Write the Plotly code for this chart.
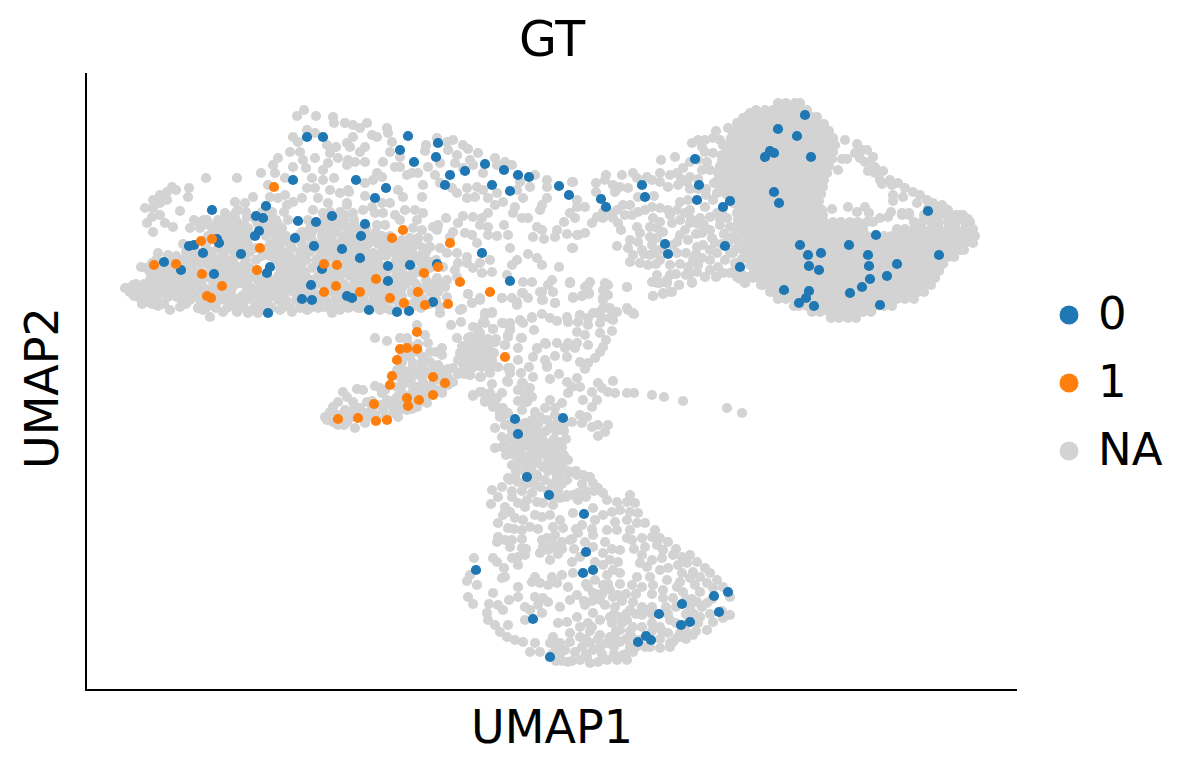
import plotly.graph_objects as go

# Cell embedding, UMAP units. Rows of dense cells are kept as (UMAP2, [UMAP1, ...]).
gt_0 = [(221,552),(237,552),(207,509),(180,483),(126,479),(170,473),(177,471),(212,468),(230,467),(246,473),
(173,458),(169,453),(209,451),(228,443),(256,440),(131,450),(133,446),(103,443),(108,444),(117,436),(155,435),
(78,427),(95,419),(128,415),(184,422),(181,416),(236,420),(225,404),(216,390),(226,389),(261,393),(266,391),
(182,376),(322,553),(352,546),(314,539),(350,532),(328,527),(399,525),(364,514),(379,518),(418,519),(432,514),
(443,512),(359,504),(406,504),(424,498),(473,503),(483,494),(270,509),(300,501),(289,491),(279,465),(275,453),
(274,431),(302,423),(324,424),(351,425),(302,408),(396,436),(424,408),(283,379),(311,377),(323,378),(347,387),
(719,574),(692,560),(711,553),(684,538),(688,536),(679,532),(609,530),(725,532),(613,504),(556,504),(559,492),
(611,489),(515,490),(520,482),(644,488),(637,482),(688,497),(693,486),(579,445),(582,435),(639,443),(714,444),
(722,434),(723,423),(654,422),(698,399),(723,398),(720,391),(713,386),(728,383),(842,478),(790,454),(763,444),
(735,436),(782,434),(733,419),(783,423),(853,434),(811,425),(801,413),(784,410),(776,402),(764,396),(794,384),
(429,270),(432,255),(477,271),(441,212),(463,194),(498,175),(500,137),(497,116),(507,119),(390,119),(447,70),
(464,32),(552,47),(560,53),(565,49),(573,75),(596,85),(595,64),(604,67),(628,93),(642,97),(633,77)]

gt_1 = [(188,502),(115,448),(126,450),(174,441),(68,424),(90,425),(116,415),(171,419),(238,425),(251,424),
(136,403),(121,393),(125,391),(238,397),(250,403),(317,459),(306,451),(364,446),(352,422),(338,416),(290,410),
(374,407),(274,397),(332,397),(404,397),(304,391),(318,386),(339,384),(362,385),(331,357),(314,340),(321,341),
(331,340),(311,329),(419,332),(306,313),(304,304),(347,312),(359,306),(347,294),(321,291),(322,283),(333,289),
(288,285),(252,270),(272,271),(290,268),(301,269)]

# Solid right-hand mass
na_right_rows = [
(586,[692,700,709,714]),
(579,[670,679,687,696,704,713,721]),
(572,[660,666,675,683,692,700,709,717,726,731]),
(565,[653,662,670,679,687,696,704,713,721,730,738]),
(558,[649,658,666,675,683,692,700,709,717,726,734,743]),
(551,[645,653,662,670,679,687,696,704,713,721,730,738,747]),
(544,[641,649,658,666,675,683,692,700,709,717,726,734,743,749]),
(537,[640,645,653,662,670,679,687,696,704,713,721,730,738,747]),
(530,[636,641,649,658,666,675,683,692,700,709,717,726,734,743,746]),
(523,[634,636,645,653,662,670,679,687,696,704,713,721,730,738,743]),
(516,[632,641,649,658,666,675,683,692,700,709,717,726,734,741]),
(509,[632,636,645,653,662,670,679,687,696,704,713,721,730,738]),
(502,[641,649,658,666,675,683,692,700,709,717,726,734,737]),
(495,[645,653,662,670,679,687,696,704,713,721,730,735]),
(488,[655,658,666,675,683,692,700,709,717,726,733]),
(481,[653,662,670,679,687,696,704,713,721,730,842,850,858]),
(474,[658,666,675,683,692,700,709,717,726,734,737,816,823,838,846,854,862,870,877]),
(467,[662,670,679,687,696,704,713,721,730,738,747,755,764,772,781,787,828,836,845,853,862,870,879,884]),
(460,[658,666,675,683,692,700,709,717,726,734,743,751,760,768,777,811,819,828,836,845,853,862,870,879,887]),
(453,[662,670,679,687,696,704,713,721,730,738,747,755,764,772,781,789,798,806,815,823,832,840,849,857,866,874,883,889]),
(446,[666,675,683,692,700,709,717,726,734,743,751,760,768,777,785,794,802,811,819,828,836,845,853,862,870,879,887]),
(439,[670,679,687,696,704,713,721,730,738,747,755,764,772,781,789,798,806,815,823,832,840,849,857,866,874,878]),
(432,[666,675,683,692,700,709,717,726,734,743,751,760,768,777,785,794,802,811,819,828,836,845,853,862,868]),
(425,[670,679,687,696,704,713,721,730,738,747,755,764,772,781,789,798,806,815,823,832,840,849,857]),
(418,[668,675,683,692,700,709,717,726,734,743,751,760,768,777,785,794,802,811,819,828,836,845,853]),
(411,[672,679,687,696,704,713,721,730,738,747,755,764,772,781,789,798,806,815,823,832,840,849]),
(404,[675,683,692,700,709,717,726,734,743,751,760,768,777,785,794,802,811,819,828,836,845]),
(397,[687,696,704,713,721,730,738,747,755,764,772,781,789,798,806,815,823,832,838]),
(390,[692,700,709,717,726,734,743,751,760,768,777,785,794,802,811,819,828]),
(383,[708,713,721,730,738,747,755,764,772,781,789,798,806]),
(377,[726,734,743,751,760,768,777,785]),
(371,[745,753,762,770]),
]

# Arc of cells closing the right-hand loop
na_right_arc = [(736,479),(746,480),(762,482),(771,477),(779,482),(783,476),(794,471),(802,472),(805,477),(816,476),
(823,476),(807,494),(807,488),(759,549),(771,545),(769,536),(776,539),(781,539),(774,531),(787,532),(779,527),
(784,526),(789,522),(782,518),(797,518),(789,516),(794,509),(796,505),(804,509),(812,506),(806,504),(819,501),
(756,530),(761,530),(752,519),(827,497),(817,492),(834,494),(841,489),(831,486),(847,486),(856,484),(862,479),
(874,474),(882,470)]

# Looser cells to the left of the right-hand mass
na_bridge = [(606,546),(612,549),(619,549),(630,558),(627,551),(634,549),(637,544),(642,561),(651,566),(657,571),
(664,576),(647,554),(646,544),(654,549),(619,537),(616,542),(627,536),(636,534),(621,527),(612,529),(604,527),
(597,521),(589,532),(575,529),(591,516),(584,514),(574,516),(574,507),(566,509),(561,512),(547,516),(536,514),
(551,511),(520,514),(510,506),(519,509),(527,504),(534,502),(542,501),(582,502),(592,504),(601,507),(616,519),
(624,519),(634,521),(644,527),(657,519),(634,502),(642,502),(651,504),(510,497),(552,492),(568,493),(529,497),
(594,487),(602,489),(604,479),(619,482),(627,489),(631,496),(647,486),(654,482),(657,492),(654,496),(537,484),
(544,484),(566,482),(574,481),(582,479),(591,479),(559,479),(552,477),(546,474),(539,474),(531,479),(526,476),
(517,477),(511,472),(506,466),(517,471),(527,471),(532,466),(535,459),(551,462),(567,471),(564,462),(574,467),
(584,474),(594,469),(599,476),(604,466),(614,471),(624,472),(631,476),(641,471),(651,476),(657,471),(652,466),
(644,462),(634,464),(624,459),(599,459),(594,454),(586,466),(571,461),(577,457),(564,452),(554,456),(544,449),
(552,447),(542,441),(531,443),(556,439),(566,444),(571,451),(591,447),(602,449),(626,451),(629,446),(617,444),
(611,442),(624,439),(631,436),(624,429),(616,431),(607,429),(602,422),(544,427),(554,426),(562,424),(547,434),
(564,434),(574,429),(584,424),(591,436),(587,444),(574,439),(644,436),(639,429),(632,422),(637,416),(624,419),
(619,412),(611,417),(604,416),(606,407),(593,404),(584,414),(581,409),(571,414),(566,407),(574,406),(584,397),
(577,395),(567,393),(649,426),(647,436),(651,449),(657,439),(661,412),(659,406),(667,411),(677,404),(684,397),
(692,404),(661,432),(651,459),(657,456),(644,416),(651,412),(487,507),(491,489),(499,482),(489,471),(499,456),
(492,454),(487,441),(504,407),(499,402),(522,404),(519,406),(517,399),(522,394),(517,389),(541,402),(503,396),
(496,393),(487,391),(484,406),(541,381),(547,376),(529,377),(522,381),(514,377),(507,376),(494,374),(524,371),
(595,510),(604,512),(612,510),(604,500),(612,500),(620,500),(628,506),(620,494),(640,495),(648,494),(605,470),
(634,470),(612,465),(618,464),(610,455),(616,456),(638,455),(646,452),(636,445),(642,446),(660,445),(558,435),
(568,436),(610,435),(600,436),(570,425),(594,425),(612,424),(648,418),(590,415),(600,414),(630,412),(655,416),
(662,476),(658,446),(650,440),(656,430),(664,438),(664,424),(654,410),(640,446),(664,452),(652,470),(636,478)]

# Sparse upper band and the scattered cells beneath it
na_upper_band = [(340,544),(339,538),(351,551),(361,547),(367,549),(362,539),(371,534),(369,526),(354,526),(342,522),
(349,514),(377,544),(382,540),(392,536),(384,529),(377,521),(387,524),(397,516),(409,531),(419,527),(411,524),
(426,524),(449,514),(461,509),(461,502),(444,502),(434,507),(486,507),(354,506),(366,501),(371,496),(381,491),
(389,492),(381,501),(391,502),(397,499),(402,491),(411,496),(417,487),(409,484),(431,499),(437,491),(429,482),
(427,476),(436,471),(442,471),(456,484),(454,479),(461,491),(451,462),(456,459),(447,452),(458,450),(469,452),
(471,459),(481,455),(491,454),(478,467),(484,476),(491,482),(486,441),(473,422),(484,407),(456,424),(451,431),
(442,435),(431,429),(424,441),(426,424),(421,414),(406,417),(396,416),(394,426),(404,429),(446,407),(437,407),
(466,409),(462,404),(454,397),(456,389),(469,386),(437,396),(431,387),(416,391),(394,389),(386,386),(382,395),
(376,380),(402,454),(411,453),(418,464),(422,454),(402,462),(394,464),(387,472),(377,473),(396,471),(402,476),
(372,466),(367,457),(379,456),(386,454),(391,446),(364,452),(360,471),(352,464),(347,462),(351,459),(336,492),
(317,492),(312,499),(337,504),(321,514),(332,516),(309,522),(306,547),(301,561),(302,556),(286,554),(291,552),
(281,566),(274,561),(267,552),(264,542),(279,542),(274,537),(279,527),(269,527),(297,527),(304,537),(314,532),
(314,522),(326,516),(262,529),(259,566),(267,564),(291,516),(296,512),(287,509),(279,506),(263,497),(279,493),
(304,486),(296,486),(286,482),(261,484),(267,476),(259,474),(277,479),(289,476),(297,476),(309,474),(319,479),
(329,479),(337,476),(314,469),(331,469),(291,464),(299,464),(327,461),(336,459),(342,451),(332,451),(324,451),
(354,441),(344,442),(337,441),(327,442),(317,442),(307,439),(294,446),(287,436),(284,452),(266,447),(264,436),
(361,436),(371,436),(381,432),(372,426),(369,419),(381,426),(387,421),(371,412),(361,409),(351,411),(342,402),
(351,397),(359,402),(374,379),(361,392),(354,382),(326,412),(334,399),(326,396),(314,399),(294,404),(284,399),
(269,416),(279,412),(286,429),(314,429),(334,429),(344,427),(357,422),(297,422),(274,422),(261,422),(264,382),
(274,381),(294,379),(304,379),(287,386),(314,386),(326,382),(354,376)]

# Outer cells of the left wing
na_left_wing = [(211,573),(218,579),(230,573),(247,572),(248,566),(259,566),(207,552),(212,547),(221,559),(229,556),
(241,544),(250,542),(261,546),(204,537),(214,537),(192,531),(187,524),(207,522),(229,531),(217,529),(244,536),
(252,531),(242,526),(261,524),(220,521),(237,519),(189,516),(199,511),(175,516),(226,511),(248,511),(237,509),
(151,511),(120,511),(182,504),(221,501),(229,501),(244,499),(254,496),(262,499),(199,494),(192,491),(184,492),
(216,491),(207,487),(201,484),(232,491),(242,486),(261,486),(227,479),(237,476),(254,474),(167,492),(159,486),
(149,487),(152,479),(139,476),(144,472),(132,462),(137,461),(161,472),(149,464),(141,466),(112,467),(121,469),
(104,461),(97,445),(86,502),(90,499),(81,497),(103,501),(102,492),(74,494),(67,489),(81,489),(74,486),(59,481),
(67,481),(94,478),(74,474),(66,472),(61,466),(79,466),(87,462),(67,457),(39,401),(47,404),(44,397),(52,392),
(61,387),(57,399),(66,404),(72,383),(84,379),(94,382),(74,397),(81,406),(82,392),(92,402),(91,392),(102,399),
(101,407),(101,389),(112,381),(124,372),(117,379),(137,377),(151,377),(162,376),(172,376),(194,379),(206,377),
(221,379),(237,382),(246,376),(254,379),(55,422),(66,426),(64,417),(72,436),(82,434),(77,419),(87,416),(96,414),
(104,422),(107,416),(114,426),(106,432)]

# Dense interior of the left lobe
na_left_rows = [
(381,[112,120,130,141,150,158,168,176,186,196,205,214,224,232,243,252,262,272,282,292,300,312,322,335]),
(385,[56,66,78,100,118,128,146,156,172,182,200,218,236,246,260,276,286,298,316,326,344]),
(389,[62,70,96,104,114,124,134,142,152,160,168,178,192,200,210,220,232,240,250,258,268,278,288,296,306,314,330,338,350]),
(393,[48,56,64,72,90,110,128,136,146,156,164,174,186,196,214,224,236,250,260,270,288,296,316,334,348]),
(397,[44,52,60,68,78,86,96,106,114,122,132,142,160,170,180,190,200,208,218,228,246,256,264,282,292,300,310,326,344,352]),
(401,[40,54,64,72,82,90,100,118,126,136,146,166,174,184,194,204,212,224,240,252,262,272,296,304,316,338,350]),
(405,[50,58,68,76,86,94,104,112,130,140,150,158,178,188,196,206,216,234,244,258,268,278,288,300,308,320,330,346,356]),
(409,[64,74,82,94,106,116,126,134,144,152,162,172,184,198,208,226,238,248,272,282,292,304,314,326,340]),
(413,[70,78,88,100,110,120,138,146,156,166,176,192,202,212,220,232,242,254,264,276,284,296,310,320]),
(417,[66,76,94,114,130,140,150,160,170,198,208,218,238,248,260,270,280,290,300,312,332]),
(421,[60,72,84,106,124,134,144,154,164,194,204,214,226,244,256,266,276,286,296,306,316,326,344]),
(425,[76,100,116,128,138,148,158,196,206,216,232,250,260,270,280,290,312,336]),
(429,[70,84,96,108,122,132,142,160,170,190,200,210,220,230,240,250,262,272,282,292,310,320,330,340,350]),
(433,[90,104,116,126,136,150,176,184,194,204,216,234,244,256,266,278,288,300,312,324,334]),
(437,[100,110,126,138,148,164,178,188,198,214,224,238,248,268,280,296,306,316,326,340]),
(441,[106,120,132,144,156,170,182,192,206,220,230,240,262,274,300,312,322]),
(445,[120,142,152,162,184,194,204,216,234,244,252,262,272,282,292,300,312,322,332]),
(449,[138,148,158,190,200,212,226,240,256,268,278,288,306,316]),
(453,[122,136,146,156,164,180,190,200,212,220,236,246,258,266,284,296,304]),
(457,[130,140,150,160,184,194,216,226,238,250,262,276,290]),
(461,[114,126,144,154,162,176,186,196,224,232,242,252,262,270,280]),
(465,[120,130,148,158,172,182,192,238,246,256,268]),
(469,[108,118,132,140,150,170,182,190,202,222,238,248,258,268]),
(477,[150,160,176,186,198,244,254]),
]

# Lower-left arm
na_arm = [(289,351),(301,348),(314,351),(321,351),(331,364),(339,354),(342,346),(316,334),(324,332),(356,341),(356,334),
(337,332),(344,327),(336,322),(352,324),(327,326),(311,319),(321,317),(331,316),(341,316),(357,319),(367,321),
(376,327),(377,336),(382,342),(387,337),(394,344),(397,334),(389,326),(381,321),(374,316),(362,312),(404,324),
(406,337),(409,347),(384,352),(392,356),(371,351),(401,349),(384,314),(395,312),(404,316),(317,309),(324,307),
(337,307),(354,309),(311,302),(331,302),(341,301),(356,299),(367,307),(299,299),(289,303),(294,301),(311,292),
(301,289),(341,286),(331,282),(321,279),(311,282),(304,284),(297,279),(307,276),(299,272),(294,284),(281,287),
(277,299),(271,300),(257,297),(267,287),(252,287),(261,292),(247,282),(274,281),(259,279),(244,277),(239,272),
(241,269),(261,267),(269,261),(247,267),(279,266),(281,276),(269,277),(289,274),(264,271),(251,274),(351,299),
(356,296),(339,292),(327,289),(314,289),(311,276),(387,294),(396,297),(404,296),(411,291),(399,289),(407,282),
(414,276),(419,274),(322,345),(332,345),(322,337),(332,337),(344,337),(350,337),(316,327),(336,327),(316,320),
(326,320),(346,320),(352,320),(362,320),(314,312),(326,312),(336,312),(350,312),(358,312),(316,304),(326,304),
(346,304),(362,304),(296,296),(316,296),(326,296),(334,296),(346,296),(286,288),(306,288),(316,288),(336,288),
(268,280),(286,280),(316,280),(326,280),(256,272),(272,272),(282,272),(312,272),(252,264),(258,264),
(392,350),(402,350),(410,350),(376,343),(386,343),(396,343),(374,336),(382,336),(392,336),(408,336),(372,329),
(388,329),(396,329),(406,329),(378,322),(388,322),(396,322),(412,322),(372,315),(378,315)]

# Central cells between the arm, the funnel and the trailing streak
na_center = [(365,364),(375,367),(376,380),(387,362),(392,359),(399,374),(406,376),(399,366),(407,360),(417,366),(424,359),
(422,352),(436,351),(432,341),(419,344),(432,329),(424,321),(422,307),(435,316),(443,322),(447,332),(451,341),
(459,346),(448,359),(437,366),(446,371),(456,375),(461,324),(447,312),(437,306),(432,299),(437,289),(446,292),
(484,406),(502,404),(521,404),(541,402),(571,406),(581,406),(593,404),(606,406),(659,406),(567,393),(577,396),
(586,397),(487,392),(496,393),(503,395),(517,391),(521,394),(469,386),(467,397),(456,397),(457,389),(442,391),
(436,396),(426,391),(431,384),(416,391),(394,391),(386,386),(382,395),(446,372),(434,369),(424,366),(416,366),
(464,371),(471,368),(481,372),(482,367),(494,374),(492,367),(502,371),(511,376),(517,381),(524,381),(531,377),
(542,379),(548,375),(527,369),(514,366),(516,371),(502,364),(526,358),(514,356),(491,357),(499,354),(502,344),
(491,346),(482,346),(489,341),(479,341),(481,332),(520,349),(517,342),(514,337),(509,331),(502,326),(494,327),
(499,320),(471,346),(460,345),(451,340),(469,333),(459,329),(461,322),(473,315),(464,310),(491,311),(481,307),
(486,302),(494,302),(482,296),(506,297),(512,306),(516,301),(527,308),(522,297),(529,296),(541,296),(548,296),
(566,294),(578,292),(597,288),(641,281),(656,276),(497,289),(511,289),(506,282),(399,376),(406,377),(397,367),
(407,360),(424,361),(422,354),(435,351),(419,344),(409,347),(391,361),(394,356),(382,351),(387,339),(394,344),
(399,334),(402,341),(381,329),(394,312),(384,314),(404,317),(376,332)]

# Funnel leading into the lower lobe
na_funnel = [(387,293),(394,297),(402,294),(416,296),(407,289),(399,287),(411,282),(406,305),(421,308),(424,316),(422,321),
(436,306),(432,299),(444,301),(439,296),(432,288),(441,287),(436,279),(464,289),(476,286),(469,281),(459,281),
(449,277),(417,281),(422,276),(414,272),(419,264),(409,261),(416,252),(409,241),(419,246),(424,239),(431,246),
(439,246),(446,252),(449,262),(446,269),(439,266),(454,272),(461,269),(469,274),(464,262),(457,256),(471,259),
(486,267),(494,274),(501,272),(496,266),(506,262),(512,264),(522,264),(519,257),(512,253),(474,247),(464,246),
(454,244),(446,237),(456,237),(434,236),(427,236),(439,227),(449,227),(426,224),(461,232),(471,234),(482,229),
(477,221),(467,219),(457,222),(487,217),(497,214),(504,212),(422,211),(429,212),(451,214),(474,212),
(424,265),(432,265),(440,265),(452,265),(470,265),(478,265),(426,258),(434,258),(442,258),(450,258),(460,258),
(470,258),(478,258),(422,250),(430,250),(440,250),(448,250),(456,250),(468,250),(480,250),(416,242),(428,242),
(436,242),(444,242),(452,242),(460,242),(468,242),(476,242),(420,234),(428,234),(436,234),(444,234),(452,234),
(464,234),(478,234),(432,226),(442,226),(452,226),(462,226),(470,226),(476,226),(430,218),(438,218),(446,218),
(462,218),(472,218),(482,218),(490,218)]

# Lower lobe
na_lower = [(406,199),(416,202),(424,209),(432,207),(451,212),(459,209),(471,212),(481,209),(491,214),(502,212),(507,206),
(512,201),(517,196),(492,196),(481,194),(472,199),(454,202),(446,196),(451,187),(441,189),(432,186),(405,185),
(419,182),(439,182),(457,186),(467,184),(474,191),(492,189),(487,194),(507,181),(509,169),(517,174),(521,189),
(531,187),(544,194),(549,186),(541,187),(534,179),(544,177),(526,177),(552,176),(559,166),(551,166),(541,169),
(529,167),(521,159),(531,159),(544,159),(569,159),(556,151),(566,152),(574,151),(582,147),(541,151),(546,149),
(519,147),(534,139),(517,136),(559,142),(571,144),(577,139),(587,134),(596,132),(604,134),(611,127),(601,126),
(592,124),(556,134),(566,129),(576,131),(554,126),(561,122),(582,121),(574,119),(619,121),(607,117),(596,116),
(624,116),(614,112),(604,111),(594,107),(631,109),(621,106),(609,104),(637,102),(627,101),(614,97),(597,97),
(587,91),(611,87),(577,91),(644,92),(621,86),(644,74),(637,71),(627,67),(621,59),(614,72),(607,54),(587,47),
(594,56),(582,56),(574,41),(574,62),(584,69),(562,79),(556,74),(547,87),(544,79),(556,62),(547,62),(541,69),
(534,59),(524,72),(534,72),(529,82),(519,84),(527,92),(514,89),(507,76),(514,69),(506,62),(514,54),(524,52),
(521,46),(534,47),(544,42),(537,34),(541,29),(531,29),(521,29),(512,27),(501,32),(507,39),(504,46),(494,29),
(482,27),(489,37),(479,39),(474,46),(484,47),(494,52),(494,62),(484,56),(472,66),(481,67),(491,72),(499,84),
(484,89),(474,82),(491,94),(467,52),(464,46),(454,37),(444,37),(449,46),(437,47),(429,49),(421,52),(414,57),
(409,64),(402,69),(401,76),(403,85),(412,84),(417,79),(422,64),(439,69),(439,82),(449,92),(457,91),(462,87),
(456,76),(452,84),(444,79),(423,89),(432,92),(432,102),(446,107),(449,112),(454,106),(462,104),(466,112),(471,106),
(476,114),(482,102),(487,116),(407,96),(382,92),(387,85),(381,108),(391,104),(384,114),(388,131),(407,131),
(411,127),(418,121),(416,111),(419,112),(426,131),(432,124),(439,134),(436,141),(432,132),(411,147),(412,152),
(419,149),(424,142),(426,149),(417,174),(412,166),(422,161),(424,177),(429,171),(436,159),(444,162),(437,169),
(449,174),(456,172),(464,174),(474,169),(467,162),(477,161),(469,154),(461,151),(456,149),(457,142),(466,147),
(476,147),(484,149),(492,156),(499,147),(507,154),(507,142),(496,164),(487,176),(462,139),(454,136),(464,129),
(486,127),(494,132),(517,124),(509,127),(532,127),(524,129),(534,116),(527,119),(521,114),(509,109),(517,104),
(502,102),(507,96),(524,99),(532,94),(546,104),(556,102),(567,104),(581,109),(551,112),(564,112),(577,99),(591,102),
(554,49),(564,42),(584,46),(591,51),(597,52),(559,42),(547,37),(546,52),
(600,90),(606,90),(626,90),(556,82),(566,82),(580,82),(590,82),(604,82),(616,82),(528,75),(540,75),(550,75),
(566,75),(582,75),(600,75),(608,75),(624,75),(636,78),(502,66),(526,66),(536,66),(566,66),(590,66),(602,66),
(612,66),(504,58),(530,58),(544,58),(566,58),(576,58),(600,58),(610,58),(500,50),(512,50),(530,50),(540,50),
(574,50),(600,50),(470,42),(496,42),(514,42),(528,42),(550,42),(584,42),(466,35),(474,35),(500,35),(516,35),
(528,35),(540,35),(470,28),(476,28),(486,28),(504,26),(440,140),(470,140),(476,140),(488,140),(526,140),(548,140),
(590,140),(428,160),(452,160),(490,160),(506,160),(436,150),(486,150),(472,135),(500,105),(522,105),(534,105),
(510,95),(516,95),(540,95),(550,95),(566,95),(498,88),(506,88),(536,88),(440,205),(448,205),(466,205),(476,205),
(496,205),(426,198),(436,198),(462,198),(500,198),(508,198),(412,192),(426,192),(466,192),(480,192),(500,192)]

categories = ["0", "1", "NA"]
colors = ["#1f77b4", "#ff7f0e", "#d3d3d3"]

na_points = na_right_arc + na_bridge + na_upper_band + na_left_wing + na_arm + na_center + na_funnel + na_lower
for row_y, row_x in na_right_rows + na_left_rows:
    na_points += [(x, row_y) for x in row_x]

W, H = 1202, 776
fig = go.Figure()

def add_cells(points, color):
    fig.add_trace(go.Scatter(
        x=[p[0] for p in points], y=[p[1] for p in points], mode="markers",
        marker=dict(color=color, size=10.2, line=dict(width=0)),
        showlegend=False, hoverinfo="skip", cliponaxis=False))

add_cells(na_points, colors[2])
add_cells(gt_0, colors[0])
add_cells(gt_1, colors[1])

# Hand-placed legend keys on their own small axes, to the right of the panel
fig.add_trace(go.Scatter(
    x=[0, 0, 0], y=[2, 1, 0], mode="markers", xaxis="x2", yaxis="y2",
    marker=dict(color=colors, size=19, line=dict(width=0)),
    showlegend=False, hoverinfo="skip", cliponaxis=False))

annotations = [
    dict(xref="x2", yref="y2", x=0, y=2 - i, text=label, showarrow=False, xanchor="left",
         yanchor="middle", xshift=27, yshift=2, font=dict(family="DejaVu Sans", size=45, color="black"))
    for i, label in enumerate(categories)
]

label_font = dict(family="DejaVu Sans", size=46, color="black")

# The vertical label sits a little below the middle of the axis
annotations.append(dict(xref="paper", yref="paper", x=42 / W, y=1 - 388 / H, text="UMAP2", textangle=-90,
                        showarrow=False, xanchor="center", yanchor="middle", font=label_font))

fig.update_layout(
    width=W, height=H, autosize=False,
    margin=dict(l=0, r=0, t=0, b=0),
    paper_bgcolor="white", plot_bgcolor="white",
    title=dict(text="GT", x=552 / W, xanchor="center", y=1 - 39 / H, yanchor="middle",
               font=dict(family="DejaVu Sans", size=49, color="black")),
    xaxis=dict(domain=[87 / W, 1017 / W], range=[1, 931], showgrid=False, zeroline=False,
               showticklabels=False, ticks="", showline=True, linecolor="black", linewidth=2.2,
               title=dict(text="UMAP1", standoff=21, font=label_font)),
    yaxis=dict(domain=[87 / H, 703 / H], range=[0, 616], showgrid=False, zeroline=False,
               showticklabels=False, ticks="", showline=True, linecolor="black", linewidth=2.2),
    xaxis2=dict(domain=[1040 / W, 1098 / W], range=[-1, 1], visible=False),
    yaxis2=dict(domain=[(H - 485) / H, (H - 281) / H], range=[-0.5, 2.5], visible=False),
    annotations=annotations,
)

fig.write_html("out.html")
